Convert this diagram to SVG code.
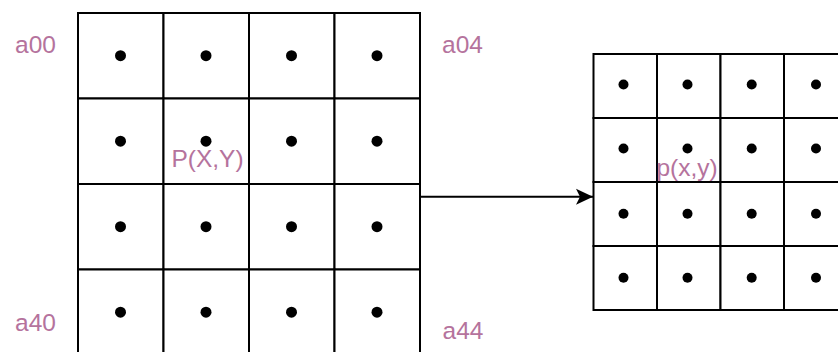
<svg xmlns="http://www.w3.org/2000/svg" width="838" height="352" viewBox="0 0 838 352">
<style>
.cell{fill:#fff;stroke:#000;stroke-width:2}
.dot{fill:#000}
.lbl{font-family:"Liberation Sans",Arial,sans-serif;font-size:24.5px;fill:#B5739D}
.edge{fill:none;stroke:#000;stroke-width:2}
</style>
<defs>
<marker id="arr" markerUnits="userSpaceOnUse" markerWidth="20" markerHeight="20" viewBox="0 0 20 20" refX="18" refY="10" orient="auto">
<path d="M18,10 L1,2 L5,10 L1,18 Z" fill="#000"/>
</marker>
</defs>
<rect width="838" height="352" fill="#fff"/>
<g id="grid-large">
<rect class="cell" x="78" y="13" width="85.5" height="85.5"/>
<rect class="cell" x="163.5" y="13" width="85.5" height="85.5"/>
<rect class="cell" x="249" y="13" width="85.5" height="85.5"/>
<rect class="cell" x="334.5" y="13" width="85.5" height="85.5"/>
<rect class="cell" x="78" y="98.5" width="85.5" height="85.5"/>
<rect class="cell" x="163.5" y="98.5" width="85.5" height="85.5"/>
<rect class="cell" x="249" y="98.5" width="85.5" height="85.5"/>
<rect class="cell" x="334.5" y="98.5" width="85.5" height="85.5"/>
<rect class="cell" x="78" y="184" width="85.5" height="85.5"/>
<rect class="cell" x="163.5" y="184" width="85.5" height="85.5"/>
<rect class="cell" x="249" y="184" width="85.5" height="85.5"/>
<rect class="cell" x="334.5" y="184" width="85.5" height="85.5"/>
<rect class="cell" x="78" y="269.5" width="85.5" height="85.5"/>
<rect class="cell" x="163.5" y="269.5" width="85.5" height="85.5"/>
<rect class="cell" x="249" y="269.5" width="85.5" height="85.5"/>
<rect class="cell" x="334.5" y="269.5" width="85.5" height="85.5"/>
<circle class="dot" cx="120.5" cy="55.7" r="5.5"/>
<circle class="dot" cx="206" cy="55.7" r="5.5"/>
<circle class="dot" cx="291.5" cy="55.7" r="5.5"/>
<circle class="dot" cx="377" cy="55.7" r="5.5"/>
<circle class="dot" cx="120.5" cy="141.2" r="5.5"/>
<circle class="dot" cx="206" cy="141.2" r="5.5"/>
<circle class="dot" cx="291.5" cy="141.2" r="5.5"/>
<circle class="dot" cx="377" cy="141.2" r="5.5"/>
<circle class="dot" cx="120.5" cy="226.7" r="5.5"/>
<circle class="dot" cx="206" cy="226.7" r="5.5"/>
<circle class="dot" cx="291.5" cy="226.7" r="5.5"/>
<circle class="dot" cx="377" cy="226.7" r="5.5"/>
<circle class="dot" cx="120.5" cy="312.2" r="5.5"/>
<circle class="dot" cx="206" cy="312.2" r="5.5"/>
<circle class="dot" cx="291.5" cy="312.2" r="5.5"/>
<circle class="dot" cx="377" cy="312.2" r="5.5"/>
</g>
<g id="grid-small">
<rect class="cell" x="593.5" y="54" width="63.5" height="64"/>
<rect class="cell" x="657" y="54" width="63.5" height="64"/>
<rect class="cell" x="720.5" y="54" width="63.5" height="64"/>
<rect class="cell" x="784" y="54" width="63.5" height="64"/>
<rect class="cell" x="593.5" y="118" width="63.5" height="64"/>
<rect class="cell" x="657" y="118" width="63.5" height="64"/>
<rect class="cell" x="720.5" y="118" width="63.5" height="64"/>
<rect class="cell" x="784" y="118" width="63.5" height="64"/>
<rect class="cell" x="593.5" y="182" width="63.5" height="64"/>
<rect class="cell" x="657" y="182" width="63.5" height="64"/>
<rect class="cell" x="720.5" y="182" width="63.5" height="64"/>
<rect class="cell" x="784" y="182" width="63.5" height="64"/>
<rect class="cell" x="593.5" y="246" width="63.5" height="64"/>
<rect class="cell" x="657" y="246" width="63.5" height="64"/>
<rect class="cell" x="720.5" y="246" width="63.5" height="64"/>
<rect class="cell" x="784" y="246" width="63.5" height="64"/>
<circle class="dot" cx="623.5" cy="84.5" r="5"/>
<circle class="dot" cx="687.5" cy="84.5" r="5"/>
<circle class="dot" cx="751.7" cy="84.5" r="5"/>
<circle class="dot" cx="816" cy="84.5" r="5"/>
<circle class="dot" cx="623.5" cy="148.5" r="5"/>
<circle class="dot" cx="687.5" cy="148.5" r="5"/>
<circle class="dot" cx="751.7" cy="148.5" r="5"/>
<circle class="dot" cx="816" cy="148.5" r="5"/>
<circle class="dot" cx="623.5" cy="213.7" r="5"/>
<circle class="dot" cx="687.5" cy="213.7" r="5"/>
<circle class="dot" cx="751.7" cy="213.7" r="5"/>
<circle class="dot" cx="816" cy="213.7" r="5"/>
<circle class="dot" cx="623.5" cy="277.7" r="5"/>
<circle class="dot" cx="687.5" cy="277.7" r="5"/>
<circle class="dot" cx="751.7" cy="277.7" r="5"/>
<circle class="dot" cx="816" cy="277.7" r="5"/>
</g>
<g id="label-a00"><text class="lbl" x="15" y="52.5">a00</text></g>
<g id="label-a04"><text class="lbl" x="442" y="52.5">a04</text></g>
<g id="label-a40"><text class="lbl" x="15" y="330.5">a40</text></g>
<g id="label-a44"><text class="lbl" x="442.5" y="338.5">a44</text></g>
<g id="label-PXY"><text class="lbl" x="207.5" y="166.5" text-anchor="middle">P(X,Y)</text></g>
<g id="label-pxy"><text class="lbl" x="687" y="175.5" text-anchor="middle">p(x,y)</text></g>
<g id="connectors">
<line class="edge" x1="420" y1="196.7" x2="593" y2="196.7" marker-end="url(#arr)"/>
</g>
</svg>
